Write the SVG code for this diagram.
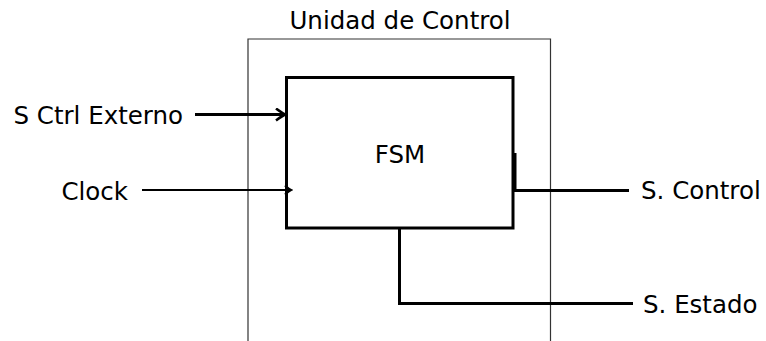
<svg xmlns="http://www.w3.org/2000/svg" width="766" height="341" viewBox="0 0 766 341">
<style>
text{font-family:"DejaVu Sans","Liberation Sans",sans-serif;font-size:24.5px;fill:#000}
.outer{fill:none;stroke:#333;stroke-width:1.2}
.fsm{fill:#fff;stroke:#000;stroke-width:3}
.w{fill:none;stroke:#000;stroke-width:3;stroke-linejoin:miter}
.w2{fill:none;stroke:#000;stroke-width:2.2}
</style>
<defs>
<marker id="arr" markerUnits="userSpaceOnUse" viewBox="-11 -7 13 14" refX="0" refY="0" markerWidth="13" markerHeight="14" orient="auto">
<path d="M-9,-6 Q-3,-1.5 0,0 Q-3,1.5 -9,6" fill="none" stroke="#000" stroke-width="2.6"/>
</marker>
<marker id="arr2" markerUnits="userSpaceOnUse" viewBox="-11 -7 13 14" refX="0" refY="0" markerWidth="13" markerHeight="14" orient="auto">
<path d="M-6,-4.5 Q-2,-1 0,0 Q-2,1 -6,4.5" fill="none" stroke="#000" stroke-width="2.2"/>
</marker>
</defs>
<g id="unidad-control">
<path class="outer" d="M248,341 V39 H550.5 V341"/>
<text x="400" y="29" text-anchor="middle">Unidad de Control</text>
</g>
<g id="fsm">
<rect class="fsm" x="286.5" y="77.5" width="226.5" height="150.5"/>
<text x="400" y="163" text-anchor="middle">FSM</text>
</g>
<g id="connectors">
<line class="w" x1="195" y1="114.5" x2="285" y2="114.5" marker-end="url(#arr)"/>
<line class="w2" x1="142" y1="190" x2="291" y2="190" marker-end="url(#arr2)"/>
<polyline class="w" points="515,153 515,190.5 629,190.5"/>
<polyline class="w" points="399.5,228 399.5,303.5 633,303.5"/>
</g>
<g id="s-ctrl-externo"><text x="183" y="124" text-anchor="end">S Ctrl Externo</text></g>
<g id="clock"><text x="128" y="200" text-anchor="end">Clock</text></g>
<g id="s-control"><text x="641" y="199">S. Control</text></g>
<g id="s-estado"><text x="643" y="313">S. Estado</text></g>
</svg>
